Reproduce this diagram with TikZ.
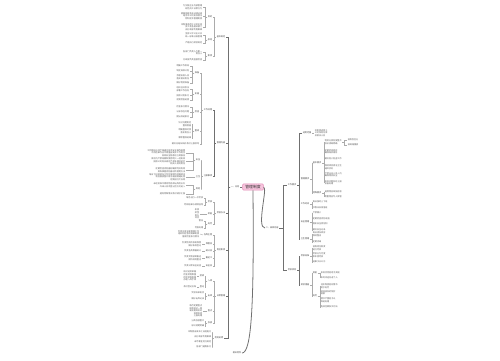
\documentclass[tikz,border=0pt]{standalone}
\usepackage{fontspec}
\newfontfamily\cjk{Noto Sans CJK SC}
\usetikzlibrary{positioning}
\definecolor{rootpink}{HTML}{F6C3DC}
\definecolor{rootline}{HTML}{E58DB8}
\definecolor{txtgray}{HTML}{5C5C5C}
\definecolor{linegray}{HTML}{ABABAB}
\definecolor{spinegray}{HTML}{707070}
\tikzset{
  % blad
  lf/.style={inner sep=0.25pt,font=\cjk\fontsize{1.2}{1.45}\selectfont,text=txtgray},
  lfl/.style={lf,anchor=east,align=right},
  lfr/.style={lf,anchor=west,align=left},
  % grenar
  br/.style={lf,text=black!75},
  brl/.style={br,anchor=east},
  brr/.style={br,anchor=west},
  ln/.style={draw=linegray,line width=0.2pt},
  sp/.style={draw=spinegray,line width=0.45pt},
  rootbox/.style={draw=rootline,fill=rootpink,rounded corners=0.6pt,line width=0.3pt,
    inner xsep=1.5pt,inner ysep=0.8pt,font=\cjk\fontsize{2.2}{2.6}\selectfont,text=black!80},
}
\begin{document}
\begin{tikzpicture}[x=0.02cm,y=-0.02cm]
  \useasboundingbox[fill=white] (0,0) rectangle (500,360);
  % rot
  \node[rootbox] (root) at (253,187) {管理制度};
  \node[brr] (l1) at (230,187) {一、总则};
  \node[brr] (r1) at (265,228) {二、具体内容};
  \node[brr] (b0) at (232,353) {相关附件};
  \draw[sp] (root.west) -- (l1.east);
  \draw[sp] (root.east) .. controls (268,187) and (256,228) .. (r1.west);
  \draw[sp] (root.south) .. controls (254,300) and (252,353) .. (b0.east);
  % vänster
  \node[brl] (c1) at (226,37) {基本规定};
  \node[brl] (c2) at (226,143) {管理内容};
  \node[brl] (c3) at (226,213) {考核办法};
  \node[brl] (c4) at (226,250) {岗位职责};
  \node[brl] (c5) at (226,296) {日常管理};
  \node[brl] (c6) at (224,338) {附则说明};
  \foreach \c in {c1,c2,c3,c4,c5,c6}
    \draw[sp] (l1.west) -- ++(-2,0) |- (\c.east);
  % c1
  \node[brl] (c1a) at (213,17) {目的};
  \node[brl] (c1b) at (213,40) {原则};
  \node[brl] (c1c) at (213,56) {职责};
  \foreach \c in {c1a,c1b,c1c}
    \draw[ln] (c1.west) -- ++(-2,0) |- (\c.east);
  \foreach \n/\y/\txt in {1/7/{为加强企业内部管理\\规范员工日常行为},
      2/16/{根据国家有关法律法规\\结合本公司实际情况\\特制定本管理制度},
      3/27/{本制度适用于公司全体\\员工及各相关部门\\由行政部负责解释}}{
    \node[lfl] (c1a-\n) at (203,\y) {\txt};
    \draw[ln] (c1a.west) -- ++(-2,0) |- (c1a-\n.east);
  }
  \foreach \n/\y/\txt in {1/35/{坚持公平公正公开\\统一标准分级管理},2/43/{严格执行奖惩规定}}{
    \node[lfl] (c1b-\n) at (203,\y) {\txt};
    \draw[ln] (c1b.west) -- ++(-2,0) |- (c1b-\n.east);
  }
  \foreach \n/\y/\txt in {1/52.5/{各部门负责人为第一\\责任人},2/60/{行政部负责监督检查}}{
    \node[lfl] (c1c-\n) at (203,\y) {\txt};
    \draw[ln] (c1c.west) -- ++(-2,0) |- (c1c-\n.east);
  }
  % c2
  \node[brl] (c2a) at (213,110) {工作流程};
  \node[brl] (c2b) at (213,176) {注意事项};
  \foreach \c in {c2a,c2b}
    \draw[sp] (c2.west) -- ++(-2,0) |- (\c.east);
  \node[brl] (d1) at (200,73) {准备};
  \node[brl] (d2) at (200,94) {实施};
  \node[brl] (d3) at (200,112) {检查};
  \node[brl] (d4) at (200,131) {整改};
  \node[lfl] (d5) at (200,144) {做好总结归档并及时上报领导};
  \foreach \c in {d1,d2,d3,d4,d5}
    \draw[ln] (c2a.west) -- ++(-2,0) |- (\c.east);
  \foreach \n/\y/\txt in {1/66/{明确工作目标},2/71/{制定具体计划},
      3/77/{合理安排人员\\落实相关责任},4/83/{做好物资准备}}{
    \node[lfl] (d1-\n) at (190,\y) {\txt};
    \draw[ln] (d1.west) -- ++(-2,0) |- (d1-\n.east);
  }
  \foreach \n/\y/\txt in {1/89/{组织召开会议\\部署工作任务},2/95.5/{按照计划执行},3/100/{定期检查进度}}{
    \node[lfl] (d2-\n) at (190,\y) {\txt};
    \draw[ln] (d2.west) -- ++(-2,0) |- (d2-\n.east);
  }
  \foreach \n/\y/\txt in {1/107/{检查执行情况},2/112/{记录存在问题},3/117/{提出改进意见}}{
    \node[lfl] (d3-\n) at (190,\y) {\txt};
    \draw[ln] (d3.west) -- ++(-2,0) |- (d3-\n.east);
  }
  \foreach \n/\y/\txt in {1/124/{针对问题制定\\整改措施},2/131/{明确整改时限\\落实责任人},3/138/{跟踪整改结果}}{
    \node[lfl] (d4-\n) at (192,\y) {\txt};
    \draw[ln] (d4.west) -- ++(-2,0) |- (d4-\n.east);
  }
  \node[brl] (q1) at (201,160) {安全};
  \node[brl] (q2) at (201,177) {卫生};
  \node[brl] (q3) at (201,189) {其他};
  \foreach \c in {q1,q2,q3}
    \draw[ln] (c2b.west) -- ++(-2,0) |- (\c.east);
  \foreach \n/\y/\txt in {1/153/{工作期间必须严格遵守各项安全操作规程\\不得违章作业不得擅自离开工作岗位\\发现安全隐患应立即报告},
      2/161.5/{库房内严禁吸烟和使用明火一经发现\\按照公司有关规定严肃处理并追究\\相关人员的责任},
      3/170/{定期检查消防器材确保完好有效\\熟练掌握消防器材的使用方法}}{
    \node[lfl] (q1-\n) at (186,\y) {\txt};
    \draw[ln] (q1.west) -- ++(-2,0) |- (q1-\n.east);
  }
  \foreach \n/\y/\txt in {1/177/{每日下班前清扫工作区域保持地面清洁\\物品摆放整齐有序通道畅通无阻\\定期进行大扫除}}{
    \node[lfl] (q2-\n) at (186,\y) {\txt};
    \draw[ln] (q2.west) -- ++(-2,0) |- (q2-\n.east);
  }
  \foreach \n/\y/\txt in {1/185/{未经批准不得将物品带出库房以外\\外来人员须登记后方可进入},2/194/{遇有特殊情况及时请示汇报}}{
    \node[lfl] (q3-\n) at (186,\y) {\txt};
    \draw[ln] (q3.west) -- ++(-2,0) |- (q3-\n.east);
  }
  % c3
  \node[brl] (e1) at (213,202) {考核};
  \node[brl] (e2) at (213,214) {奖励};
  \node[brl] (e3) at (213,224) {处罚};
  \foreach \c in {e1,e2,e3}
    \draw[ln] (c3.west) -- ++(-2,0) |- (\c.east);
  \foreach \n/\y/\txt in {1/198/{每月进行一次考核},2/205/{考核结果与绩效挂钩}}{
    \node[lfl] (e1-\n) at (204,\y) {\txt};
    \draw[ln] (e1.west) -- ++(-2,0) |- (e1-\n.east);
  }
  \node[lfl] (e2-1) at (200,214) {表扬\\奖金\\晋升\\评优};
  \draw[ln] (e2.west) -- (e2-1.east);
  \foreach \n/\y/\txt in {1/221/{警告},2/228/{罚款处理}}{
    \node[lfl] (e3-\n) at (204,\y) {\txt};
    \draw[ln] (e3.west) -- ++(-2,0) |- (e3-\n.east);
  }
  % c4
  \node[brl] (t1) at (213,235) {仓库主管};
  \node[brl] (t2) at (213,244) {保管员};
  \node[brl] (t3) at (213,251) {统计员};
  \node[brl] (t4) at (213,258) {搬运工};
  \node[brl] (t5) at (213,266) {安全员};
  \foreach \c in {t1,t2,t3,t4,t5}
    \draw[ln] (c4.west) -- ++(-2,0) |- (\c.east);
  \node[lfl] (t1-1) at (200,234) {负责仓库全面管理工作\\组织制定各项规章制度\\督促检查执行情况};
  \node[lfl] (t2-1) at (202,244) {负责物资的收发保管\\做好账目登记};
  \node[lfl] (t3-1) at (202,251) {负责各类数据统计};
  \node[lfl] (t4-1) at (202,258) {负责货物装卸搬运\\保持现场整洁};
  \node[lfl] (t5-1) at (202,266) {负责日常安全巡查};
  \foreach \c in {t1,t2,t3,t4,t5}
    \draw[ln] (\c.west) -- (\c-1.east);
  % c5
  \node[brl] (u1) at (213,281) {入库};
  \node[brl] (u2) at (213,296) {出库};
  \node[brl] (u3) at (213,311) {盘点};
  \node[brl] (u4) at (213,323) {存放};
  \foreach \c in {u1,u2,u3,u4}
    \draw[ln] (c5.west) -- ++(-2,0) |- (\c.east);
  \node[brl] (u1a) at (205,276) {验收};
  \node[brl] (u1b) at (205,287) {登记};
  \foreach \c in {u1a,u1b}
    \draw[ln] (u1.west) -- ++(-2,0) |- (\c.east);
  \node[lfl] (u1a-1) at (197,276) {核对送货单据\\检查货物数量\\检验货物质量\\办理入库手续};
  \node[lfl] (u1b-1) at (197,287) {及时登记台账};
  \draw[ln] (u1a.west) -- (u1a-1.east);
  \draw[ln] (u1b.west) -- (u1b-1.east);
  \foreach \n/\y/\txt in {1/293/{凭领料单发货},2/299/{做好出库记录}}{
    \node[lfl] (u2-\n) at (205,\y) {\txt};
    \draw[ln] (u2.west) -- ++(-2,0) |- (u2-\n.east);
  }
  \node[lfl] (u3-1) at (203,311) {每月定期盘点\\账物核对一致\\发现差异及时\\查明原因\\上报处理};
  \draw[ln] (u3.west) -- (u3-1.east);
  \foreach \n/\y/\txt in {1/321/{分类存放整齐},2/326/{标识清楚明确}}{
    \node[lfl] (u4-\n) at (205,\y) {\txt};
    \draw[ln] (u4.west) -- ++(-2,0) |- (u4-\n.east);
  }
  % c6
  \foreach \n/\y/\txt in {1/332/{本制度自发布之日起施行},2/337/{由行政部负责解释},
      3/342/{未尽事宜另行规定},4/347/{各部门遵照执行}}{
    \node[lfl] (c6-\n) at (212,\y) {\txt};
    \draw[ln] (c6.west) -- ++(-2,0) |- (c6-\n.east);
  }
  % höger
  \node[brr] (ra) at (287,185) {工作要求};
  \node[brr] (rb) at (287,270) {考核奖惩};
  \foreach \c in {ra,rb}
    \draw[sp] (r1.east) -- ++(4,0) |- (\c.west);
  \node[brr] (a1) at (302,133) {适用范围};
  \node[brr] (a2) at (300,179) {管理要求};
  \node[brr] (a3) at (300,204) {工作时间};
  \node[brr] (a4) at (300,222) {安全管理};
  \node[brr] (a5) at (300,239) {卫生管理};
  \foreach \c in {a1,a2,a3,a4,a5}
    \draw[sp] (ra.east) -- ++(2,0) |- (\c.west);
  \node[lfr] (a1-1) at (314,133) {本制度适用于\\公司所有仓库\\及相关人员};
  \draw[ln] (a1.east) -- (a1-1.west);
  \node[brr] (a2x) at (312,163) {基本要求};
  \node[brr] (a2y) at (312,193) {特殊要求};
  \foreach \c in {a2x,a2y}
    \draw[ln] (a2.east) -- ++(2,0) |- (\c.west);
  \foreach \n/\y/\txt in {1/142/{物资分类存放整齐\\标识清晰明确},2/151.5/{定期检查库存\\确保账实相符},
      3/159/{做好防火防盗工作},4/167/{保持库房清洁卫生\\通风良好},
      5/174.5/{严禁无关人员入内\\确保物资安全},6/182.5/{发现问题及时上报\\妥善处理}}{
    \node[lfr] (a2x-\n) at (324,\y) {\txt};
    \draw[ln] (a2x.east) -- ++(2,0) |- (a2x-\n.west);
  }
  \node[lfr] (a2s1) at (347,140) {按类别区分};
  \node[lfr] (a2s2) at (347,145) {按规格摆放};
  \foreach \c in {a2s1,a2s2}
    \draw[ln] (a2x-1.east) -- ++(2,0) |- (\c.west);
  \foreach \n/\y/\txt in {1/192/{易燃物品单独存放},2/196.5/{贵重物品专人保管}}{
    \node[lfr] (a2y-\n) at (324,\y) {\txt};
    \draw[ln] (a2y.east) -- ++(2,0) |- (a2y-\n.west);
  }
  \foreach \n/\y/\txt in {1/202/{每日按时上下班},2/208/{节假日安排值班}}{
    \node[lfr] (a3-\n) at (312,\y) {\txt};
    \draw[ln] (a3.east) -- ++(2,0) |- (a3-\n.west);
  }
  \foreach \n/\y/\txt in {1/213/{严禁烟火},2/219/{定期检查消防设施},3/224/{落实安全责任制},4/230/{做好安全记录}}{
    \node[lfr] (a4-\n) at (312,\y) {\txt};
    \draw[ln] (a4.east) -- ++(2,0) |- (a4-\n.west);
  }
  \foreach \n/\y/\txt in {1/234/{每日清扫库房\\保持整洁},2/242/{定期消毒}}{
    \node[lfr] (a5-\n) at (312,\y) {\txt};
    \draw[ln] (a5.east) -- ++(2,0) |- (a5-\n.west);
  }
  \node[brr] (b1) at (300,256) {考核标准};
  \node[brr] (b2) at (300,285) {奖惩措施};
  \foreach \c in {b1,b2}
    \draw[sp] (rb.east) -- ++(2,0) |- (\c.west);
  \foreach \n/\y/\txt in {1/248/{按照岗位职责\\进行考核},2/255/{考核分为月度\\和年度考核},3/262/{结果予以公示}}{
    \node[lfr] (b1-\n) at (312,\y) {\txt};
    \draw[ln] (b1.east) -- ++(2,0) |- (b1-\n.west);
  }
  \node[brr] (b2x) at (312,273) {奖励};
  \node[brr] (b2y) at (312,296) {处罚};
  \foreach \c in {b2x,b2y}
    \draw[ln] (b2.east) -- ++(2,0) |- (\c.west);
  \foreach \n/\y/\txt in {1/273/{表现优秀者给予奖励},2/277.5/{年终评选先进个人}}{
    \node[lfr] (b2x-\n) at (320,\y) {\txt};
    \draw[ln] (b2x.east) -- ++(2,0) |- (b2x-\n.west);
  }
  \foreach \n/\y/\txt in {1/286/{违反制度者视情节\\给予处罚},2/292.5/{造成损失的照价\\赔偿},
      3/300/{情节严重者予以\\辞退处理},4/307/{构成犯罪移交司法}}{
    \node[lfr] (b2y-\n) at (320,\y) {\txt};
    \draw[ln] (b2y.east) -- ++(2,0) |- (b2y-\n.west);
  }
\end{tikzpicture}
\end{document}
